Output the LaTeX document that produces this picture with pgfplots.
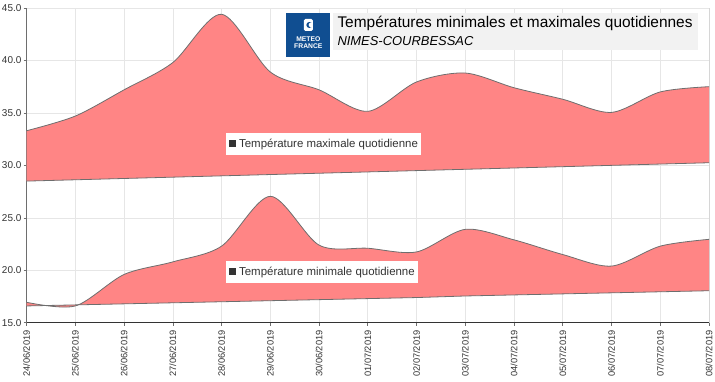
\documentclass[border=0pt]{standalone}
\usepackage{pgfplots}
\pgfplotsset{compat=1.18}
\usepgfplotslibrary{fillbetween}
\usepackage{fontspec}
\setmainfont{Liberation Sans}
\definecolor{fillred}{RGB}{255,133,133}
\definecolor{linegray}{RGB}{110,110,110}
\definecolor{gridgray}{RGB}{230,230,230}
\definecolor{txt}{RGB}{51,51,51}
\definecolor{mfblue}{RGB}{16,78,145}
\definecolor{boxgray}{RGB}{242,242,242}
\begin{document}
\begin{tikzpicture}
\path (-26bp,-56bp) rectangle (689bp,323bp);
\begin{axis}[
  scale only axis,
  width=683bp, height=315bp,
  xmin=0, xmax=14, ymin=15, ymax=45,
  xtick={0,...,14},
  xticklabels={24/06/2019,25/06/2019,26/06/2019,27/06/2019,28/06/2019,29/06/2019,30/06/2019,01/07/2019,02/07/2019,03/07/2019,04/07/2019,05/07/2019,06/07/2019,07/07/2019,08/07/2019},
  xticklabel style={rotate=90, anchor=east, font=\fontsize{9.3}{10}\selectfont, text=txt, inner xsep=4.5bp, inner ysep=1bp},
  ytick={15,20,...,45},
  yticklabel style={font=\fontsize{10}{11}\selectfont, text=txt, inner sep=2bp,
    /pgf/number format/.cd, fixed, fixed zerofill, precision=1, assume math mode=true},
  grid=major,
  major grid style={gridgray, line width=0.6bp},
  axis x line*=bottom, axis y line*=left,
  x axis line style={txt, line width=0.8bp, -},
  y axis line style={linegray, line width=0.8bp, -},
  tick align=outside,
  major tick length=3bp,
  tick style={linegray, line width=0.6bp},
]
% max normal
\addplot[name path=maxn, draw=none] coordinates {
(0,28.5)(1,28.625)(2,28.75)(3,28.875)(4,29.0)(5,29.125)(6,29.25)(7,29.375)(8,29.5)(9,29.625)(10,29.75)(11,29.875)(12,30.0)(13,30.125)(14,30.25)};
% max observed
\addplot[name path=maxo, draw=none, smooth] coordinates {
(0,33.3)(1,34.7)(2,37.2)(3,39.8)(4,44.4)(5,38.9)(6,37.2)(7,35.15)(8,37.95)(9,38.8)(10,37.4)(11,36.3)(12,35.05)(13,37.0)(14,37.5)};
\addplot[fillred, draw=none] fill between[of=maxo and maxn];
% min normal
\addplot[name path=minn, draw=none] coordinates {
(0,16.6)(1,16.7)(2,16.8)(3,16.9)(4,17.0)(5,17.1)(6,17.2)(7,17.3)(8,17.4)(9,17.55)(10,17.65)(11,17.75)(12,17.85)(13,17.95)(14,18.05)};
% min observed
\addplot[name path=mino, draw=none, smooth] coordinates {
(0,16.95)(1,16.6)(2,19.6)(3,20.8)(4,22.3)(5,27.05)(6,22.4)(7,22.1)(8,21.75)(9,23.9)(10,22.9)(11,21.5)(12,20.4)(13,22.3)(14,22.95)};
\addplot[fillred, draw=none] fill between[of=mino and minn];
% outlines
\addplot[linegray, line width=0.8bp] coordinates {
(0,28.5)(1,28.625)(2,28.75)(3,28.875)(4,29.0)(5,29.125)(6,29.25)(7,29.375)(8,29.5)(9,29.625)(10,29.75)(11,29.875)(12,30.0)(13,30.125)(14,30.25)};
\addplot[linegray, line width=0.8bp, smooth] coordinates {
(0,33.3)(1,34.7)(2,37.2)(3,39.8)(4,44.4)(5,38.9)(6,37.2)(7,35.15)(8,37.95)(9,38.8)(10,37.4)(11,36.3)(12,35.05)(13,37.0)(14,37.5)};
\addplot[linegray, line width=0.8bp] coordinates {
(0,16.6)(1,16.7)(2,16.8)(3,16.9)(4,17.0)(5,17.1)(6,17.2)(7,17.3)(8,17.4)(9,17.55)(10,17.65)(11,17.75)(12,17.85)(13,17.95)(14,18.05)};
\addplot[linegray, line width=0.8bp, smooth] coordinates {
(0,16.95)(1,16.6)(2,19.6)(3,20.8)(4,22.3)(5,27.05)(6,22.4)(7,22.1)(8,21.75)(9,23.9)(10,22.9)(11,21.5)(12,20.4)(13,22.3)(14,22.95)};
% right border
\draw[linegray, line width=0.8bp] (rel axis cs:1,0) -- (rel axis cs:1,1);
% series labels
\node[fill=white, anchor=west, inner xsep=3bp, inner ysep=5.5bp, font=\fontsize{11.5}{12}\selectfont, text=txt]
  at (axis cs:4.08,32.0) {\textcolor{txt}{\rule{7.5bp}{7.5bp}}\hspace{3bp}Température maximale quotidienne};
\node[fill=white, anchor=west, inner xsep=3bp, inner ysep=5.5bp, font=\fontsize{11.5}{12}\selectfont, text=txt]
  at (axis cs:4.08,19.8) {\textcolor{txt}{\rule{7.5bp}{7.5bp}}\hspace{3bp}Température minimale quotidienne};
\end{axis}
% title block
\fill[boxgray] (307bp,273bp) rectangle (672bp,310bp);
\fill[mfblue] (260bp,266bp) rectangle (304bp,310bp);
\fill[white, rounded corners=1.5bp] (277.5bp,292bp) rectangle (286.5bp,304bp);
\fill[mfblue] (283bp,298bp) circle (3bp);
\fill[white] (284.5bp,298bp) circle (2.2bp);
\node[white, align=center, font=\bfseries\fontsize{6.8}{7.2}\selectfont, inner sep=0pt] at (282bp,280bp) {METEO\\FRANCE};
\node[anchor=west, font=\fontsize{15.5}{16}\selectfont, text=black, inner sep=0pt] at (311bp,300bp) {Températures minimales et maximales quotidiennes};
\node[anchor=west, font=\itshape\fontsize{13}{14}\selectfont, text=black, inner sep=0pt] at (311bp,282bp) {NIMES-COURBESSAC};
\end{tikzpicture}
\end{document}
